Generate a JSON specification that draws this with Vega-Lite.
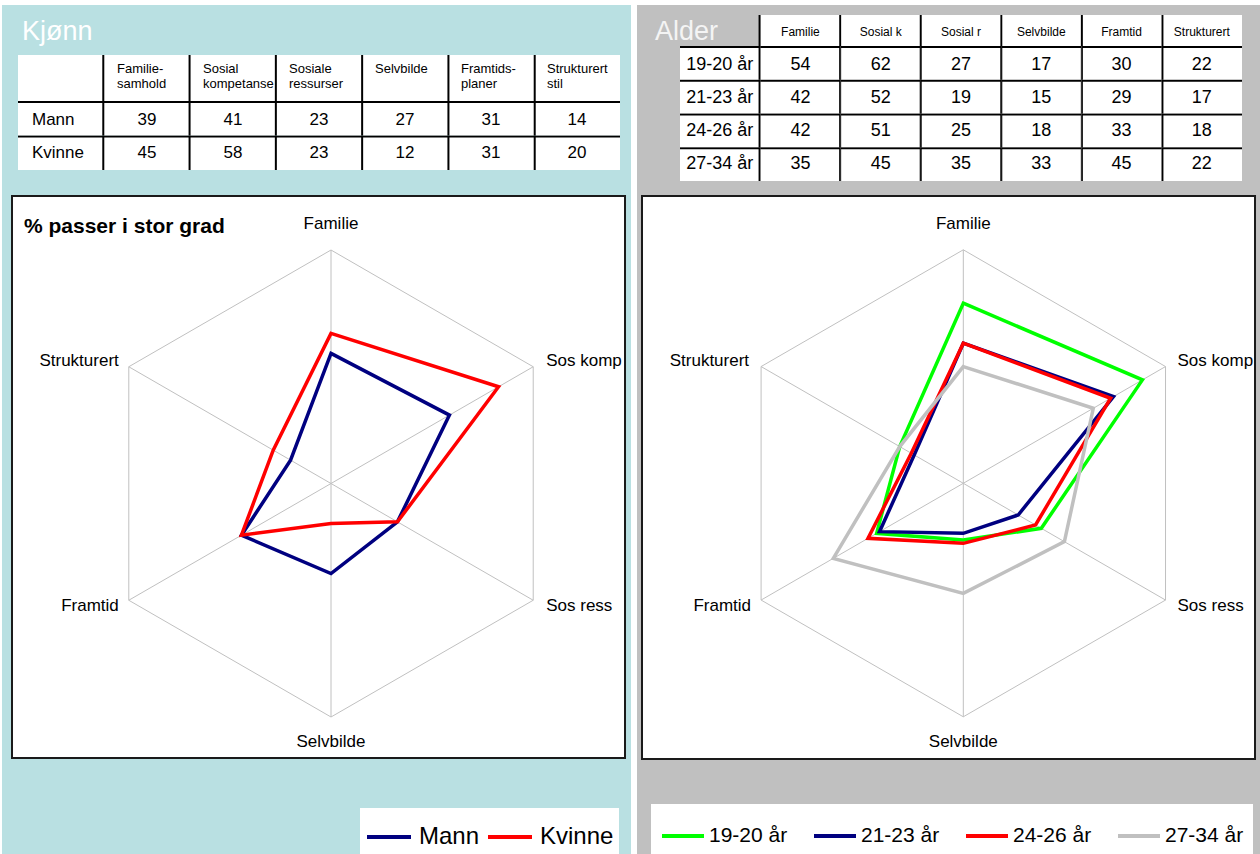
{
"$schema": "https://vega.github.io/schema/vega-lite/v6.json",
"padding": {"left": 2, "top": 5, "right": 0, "bottom": 0},
"spacing": 6,
"background": "white",
"config": {"view": {"stroke": null}},
"datasets": {
"axes": [{"a":"Familie","k":0},{"a":"Sos komp","k":1},{"a":"Sos ress","k":2},{"a":"Selvbilde","k":3},{"a":"Framtid","k":4},{"a":"Strukturert","k":5}],
"hdrL": [{"c":"_","h":""},{"c":"Familie-samhold","h":"Familie-\nsamhold"},{"c":"Sosial kompetanse","h":"Sosial\nkompetanse"},{"c":"Sosiale ressurser","h":"Sosiale\nressurser"},{"c":"Selvbilde","h":"Selvbilde"},{"c":"Framtids-planer","h":"Framtids-\nplaner"},{"c":"Strukturert stil","h":"Strukturert\nstil"}],
"bodyL": [
{"r":"Mann","c":"_"},{"r":"Mann","c":"Familie-samhold","v":39},{"r":"Mann","c":"Sosial kompetanse","v":41},{"r":"Mann","c":"Sosiale ressurser","v":23},{"r":"Mann","c":"Selvbilde","v":27},{"r":"Mann","c":"Framtids-planer","v":31},{"r":"Mann","c":"Strukturert stil","v":14},
{"r":"Kvinne","c":"_"},{"r":"Kvinne","c":"Familie-samhold","v":45},{"r":"Kvinne","c":"Sosial kompetanse","v":58},{"r":"Kvinne","c":"Sosiale ressurser","v":23},{"r":"Kvinne","c":"Selvbilde","v":12},{"r":"Kvinne","c":"Framtids-planer","v":31},{"r":"Kvinne","c":"Strukturert stil","v":20}],
"hdrR": [{"c":"Familie"},{"c":"Sosial k"},{"c":"Sosial r"},{"c":"Selvbilde"},{"c":"Framtid"},{"c":"Strukturert"}],
"bodyR": [
{"r":"19-20 år","c":"_"},{"r":"19-20 år","c":"Familie","v":54},{"r":"19-20 år","c":"Sosial k","v":62},{"r":"19-20 år","c":"Sosial r","v":27},{"r":"19-20 år","c":"Selvbilde","v":17},{"r":"19-20 år","c":"Framtid","v":30},{"r":"19-20 år","c":"Strukturert","v":22},
{"r":"21-23 år","c":"_"},{"r":"21-23 år","c":"Familie","v":42},{"r":"21-23 år","c":"Sosial k","v":52},{"r":"21-23 år","c":"Sosial r","v":19},{"r":"21-23 år","c":"Selvbilde","v":15},{"r":"21-23 år","c":"Framtid","v":29},{"r":"21-23 år","c":"Strukturert","v":17},
{"r":"24-26 år","c":"_"},{"r":"24-26 år","c":"Familie","v":42},{"r":"24-26 år","c":"Sosial k","v":51},{"r":"24-26 år","c":"Sosial r","v":25},{"r":"24-26 år","c":"Selvbilde","v":18},{"r":"24-26 år","c":"Framtid","v":33},{"r":"24-26 år","c":"Strukturert","v":18},
{"r":"27-34 år","c":"_"},{"r":"27-34 år","c":"Familie","v":35},{"r":"27-34 år","c":"Sosial k","v":45},{"r":"27-34 år","c":"Sosial r","v":35},{"r":"27-34 år","c":"Selvbilde","v":33},{"r":"27-34 år","c":"Framtid","v":45},{"r":"27-34 år","c":"Strukturert","v":22}]
},
"resolve": {"scale": {"color": "independent"}, "legend": {"color": "independent"}},
"hconcat": [
{
"width": 629, "height": 849,
"view": {"fill": "#b9e0e2", "stroke": null},
"resolve": {"scale": {"x": "independent", "y": "independent"}},
"layer": [
{"data": {"name": "hdrL"}, "transform": [{"calculate": "'h'", "as": "hr"}], "mark": {"type": "rect", "fill": "#000000"},
 "encoding": {"x": {"field": "c", "type": "nominal", "axis": null, "scale": {"domain": ["_","Familie-samhold","Sosial kompetanse","Sosiale ressurser","Selvbilde","Framtids-planer","Strukturert stil"], "range": [16,618], "paddingInner": 0, "paddingOuter": 0}},
  "y": {"field": "hr", "type": "nominal", "axis": null, "scale": {"domain": ["h"], "range": [50,96], "paddingInner": 0, "paddingOuter": 0}}}},
{"data": {"name": "bodyL"}, "mark": {"type": "rect", "fill": "#000000"},
 "encoding": {"x": {"field": "c", "type": "nominal", "axis": null, "scale": {"domain": ["_","Familie-samhold","Sosial kompetanse","Sosiale ressurser","Selvbilde","Framtids-planer","Strukturert stil"], "range": [16,618], "paddingInner": 0, "paddingOuter": 0}},
  "y": {"field": "r", "type": "nominal", "axis": null, "scale": {"domain": ["Mann","Kvinne"], "range": [96,165], "paddingInner": 0, "paddingOuter": 0}}}},
{"data": {"name": "hdrL"}, "transform": [{"calculate": "'h'", "as": "hr"}], "mark": {"type": "rect", "fill": "#ffffff"},
 "encoding": {"x": {"field": "c", "type": "nominal", "axis": null, "scale": {"domain": ["_","Familie-samhold","Sosial kompetanse","Sosiale ressurser","Selvbilde","Framtids-planer","Strukturert stil"], "range": [16,618], "paddingInner": 0.02318, "paddingOuter": 0}},
  "y": {"field": "hr", "type": "nominal", "axis": null, "scale": {"domain": ["h"], "range": [50,96], "paddingInner": 0, "paddingOuter": 0}}}},
{"data": {"name": "bodyL"}, "mark": {"type": "rect", "fill": "#ffffff"},
 "encoding": {"x": {"field": "c", "type": "nominal", "axis": null, "scale": {"domain": ["_","Familie-samhold","Sosial kompetanse","Sosiale ressurser","Selvbilde","Framtids-planer","Strukturert stil"], "range": [16,618], "paddingInner": 0.02318, "paddingOuter": 0}},
  "y": {"field": "r", "type": "nominal", "axis": null, "scale": {"domain": ["Mann","Kvinne"], "range": [98,165], "paddingInner": 0.058, "paddingOuter": 0}}}},
{"data": {"name": "hdrL"}, "transform": [{"calculate": "'h'", "as": "hr"}], "mark": {"type": "text", "align": "left", "baseline": "top", "dx": -30, "dy": -15, "lineBreak": "\n", "lineHeight": 15, "fontSize": 13, "font": "Liberation Sans", "color": "#000000"},
 "encoding": {"x": {"field": "c", "type": "nominal", "axis": null, "scale": {"domain": ["_","Familie-samhold","Sosial kompetanse","Sosiale ressurser","Selvbilde","Framtids-planer","Strukturert stil"], "range": [16,618], "paddingInner": 0.02318, "paddingOuter": 0}},
  "y": {"field": "hr", "type": "nominal", "axis": null, "scale": {"domain": ["h"], "range": [50,96], "paddingInner": 0, "paddingOuter": 0}},
  "text": {"field": "h", "type": "nominal"}}},
{"data": {"name": "bodyL"}, "transform": [{"filter": "datum.c == '_'"}], "mark": {"type": "text", "align": "left", "baseline": "middle", "dx": -29, "fontSize": 17, "font": "Liberation Sans", "color": "#000000"},
 "encoding": {"x": {"field": "c", "type": "nominal", "axis": null, "scale": {"domain": ["_","Familie-samhold","Sosial kompetanse","Sosiale ressurser","Selvbilde","Framtids-planer","Strukturert stil"], "range": [16,618], "paddingInner": 0.02318, "paddingOuter": 0}},
  "y": {"field": "r", "type": "nominal", "axis": null, "scale": {"domain": ["Mann","Kvinne"], "range": [98,165], "paddingInner": 0.058, "paddingOuter": 0}},
  "text": {"field": "r", "type": "nominal"}}},
{"data": {"name": "bodyL"}, "transform": [{"filter": "datum.c != '_'"}], "mark": {"type": "text", "align": "center", "baseline": "middle", "fontSize": 17, "font": "Liberation Sans", "color": "#000000"},
 "encoding": {"x": {"field": "c", "type": "nominal", "axis": null, "scale": {"domain": ["_","Familie-samhold","Sosial kompetanse","Sosiale ressurser","Selvbilde","Framtids-planer","Strukturert stil"], "range": [16,618], "paddingInner": 0.02318, "paddingOuter": 0}},
  "y": {"field": "r", "type": "nominal", "axis": null, "scale": {"domain": ["Mann","Kvinne"], "range": [98,165], "paddingInner": 0.058, "paddingOuter": 0}},
  "text": {"field": "v", "type": "quantitative"}}},
{"data": {"values": [{"f": "box"}]}, "transform": [{"calculate": "-95.63", "as": "bx1"}, {"calculate": "88.14", "as": "bx2"}, {"calculate": "86.19", "as": "by1"}, {"calculate": "-82.29", "as": "by2"}],
 "mark": {"type": "rect", "fill": "#ffffff", "stroke": "#1a1a1a", "strokeWidth": 2},
 "encoding": {"x": {"field": "bx1", "type": "quantitative", "axis": null, "scale": {"domain": [-70,70], "range": [95.5,562.5], "nice": false, "zero": false}},
  "x2": {"field": "bx2"},
  "y": {"field": "by1", "type": "quantitative", "axis": null, "scale": {"domain": [-70,70], "range": [712,245], "nice": false, "zero": false}},
  "y2": {"field": "by2"}}},
{"data": {"name": "axes"}, "transform": [{"calculate": "0", "as": "ox"}, {"calculate": "70*sin(2*PI*datum.k/6)", "as": "gx"}, {"calculate": "70*cos(2*PI*datum.k/6)", "as": "gy"}],
 "mark": {"type": "rule", "color": "#c0c0c0", "strokeWidth": 1},
 "encoding": {"x": {"field": "ox", "type": "quantitative", "axis": null, "scale": {"domain": [-70,70], "range": [95.5,562.5], "nice": false, "zero": false}},
  "y": {"field": "ox", "type": "quantitative", "axis": null, "scale": {"domain": [-70,70], "range": [712,245], "nice": false, "zero": false}},
  "x2": {"field": "gx"}, "y2": {"field": "gy"}}},
{"data": {"name": "axes"}, "transform": [{"calculate": "70*sin(2*PI*datum.k/6)", "as": "gx"}, {"calculate": "70*cos(2*PI*datum.k/6)", "as": "gy"}],
 "mark": {"type": "line", "color": "#c0c0c0", "strokeWidth": 1, "interpolate": "linear-closed"},
 "encoding": {"x": {"field": "gx", "type": "quantitative", "axis": null, "scale": {"domain": [-70,70], "range": [95.5,562.5], "nice": false, "zero": false}},
  "y": {"field": "gy", "type": "quantitative", "axis": null, "scale": {"domain": [-70,70], "range": [712,245], "nice": false, "zero": false}},
  "order": {"field": "k", "type": "quantitative"}}},
{"data": {"name": "bodyL"}, "transform": [{"filter": "datum.c != '_'"},
  {"calculate": "indexof(['_','Familie-samhold','Sosial kompetanse','Sosiale ressurser','Selvbilde','Framtids-planer','Strukturert stil'], datum.c) - 1", "as": "k"},
  {"calculate": "datum.v*sin(2*PI*datum.k/6)", "as": "px"}, {"calculate": "datum.v*cos(2*PI*datum.k/6)", "as": "py"}],
 "mark": {"type": "line", "strokeWidth": 3.5, "interpolate": "linear-closed", "strokeJoin": "miter"},
 "encoding": {"x": {"field": "px", "type": "quantitative", "axis": null, "scale": {"domain": [-70,70], "range": [95.5,562.5], "nice": false, "zero": false}},
  "y": {"field": "py", "type": "quantitative", "axis": null, "scale": {"domain": [-70,70], "range": [712,245], "nice": false, "zero": false}},
  "order": {"field": "k", "type": "quantitative"},
  "color": {"field": "r", "type": "nominal", "scale": {"domain": ["Mann","Kvinne"], "range": ["#000080","#ff0000"]},
   "legend": {"orient": "none", "legendX": 358, "legendY": 803, "direction": "horizontal", "title": null, "symbolType": "stroke", "symbolSize": 1936, "symbolStrokeWidth": 4, "labelFontSize": 24, "labelFont": "Liberation Sans", "labelColor": "#000000", "fillColor": "#ffffff", "padding": 5, "columnPadding": 0, "labelOffset": 6}}}},
{"data": {"name": "axes"}, "transform": [{"filter": "datum.k == 0"}, {"calculate": "70*sin(2*PI*datum.k/6)", "as": "gx"}, {"calculate": "70*cos(2*PI*datum.k/6)", "as": "gy"}],
 "mark": {"type": "text", "align": "center", "baseline": "middle", "dy": -26, "fontSize": 17, "font": "Liberation Sans", "color": "#000000"},
 "encoding": {"x": {"field": "gx", "type": "quantitative", "axis": null, "scale": {"domain": [-70,70], "range": [95.5,562.5], "nice": false, "zero": false}},
  "y": {"field": "gy", "type": "quantitative", "axis": null, "scale": {"domain": [-70,70], "range": [712,245], "nice": false, "zero": false}}, "text": {"field": "a", "type": "nominal"}}},
{"data": {"name": "axes"}, "transform": [{"filter": "datum.k == 1"}, {"calculate": "70*sin(2*PI*datum.k/6)", "as": "gx"}, {"calculate": "70*cos(2*PI*datum.k/6)", "as": "gy"}],
 "mark": {"type": "text", "align": "left", "baseline": "middle", "dx": 13, "dy": -6, "fontSize": 17, "font": "Liberation Sans", "color": "#000000"},
 "encoding": {"x": {"field": "gx", "type": "quantitative", "axis": null, "scale": {"domain": [-70,70], "range": [95.5,562.5], "nice": false, "zero": false}},
  "y": {"field": "gy", "type": "quantitative", "axis": null, "scale": {"domain": [-70,70], "range": [712,245], "nice": false, "zero": false}}, "text": {"field": "a", "type": "nominal"}}},
{"data": {"name": "axes"}, "transform": [{"filter": "datum.k == 2"}, {"calculate": "70*sin(2*PI*datum.k/6)", "as": "gx"}, {"calculate": "70*cos(2*PI*datum.k/6)", "as": "gy"}],
 "mark": {"type": "text", "align": "left", "baseline": "middle", "dx": 13, "dy": 6, "fontSize": 17, "font": "Liberation Sans", "color": "#000000"},
 "encoding": {"x": {"field": "gx", "type": "quantitative", "axis": null, "scale": {"domain": [-70,70], "range": [95.5,562.5], "nice": false, "zero": false}},
  "y": {"field": "gy", "type": "quantitative", "axis": null, "scale": {"domain": [-70,70], "range": [712,245], "nice": false, "zero": false}}, "text": {"field": "a", "type": "nominal"}}},
{"data": {"name": "axes"}, "transform": [{"filter": "datum.k == 3"}, {"calculate": "70*sin(2*PI*datum.k/6)", "as": "gx"}, {"calculate": "70*cos(2*PI*datum.k/6)", "as": "gy"}],
 "mark": {"type": "text", "align": "center", "baseline": "middle", "dy": 25, "fontSize": 17, "font": "Liberation Sans", "color": "#000000"},
 "encoding": {"x": {"field": "gx", "type": "quantitative", "axis": null, "scale": {"domain": [-70,70], "range": [95.5,562.5], "nice": false, "zero": false}},
  "y": {"field": "gy", "type": "quantitative", "axis": null, "scale": {"domain": [-70,70], "range": [712,245], "nice": false, "zero": false}}, "text": {"field": "a", "type": "nominal"}}},
{"data": {"name": "axes"}, "transform": [{"filter": "datum.k == 4"}, {"calculate": "70*sin(2*PI*datum.k/6)", "as": "gx"}, {"calculate": "70*cos(2*PI*datum.k/6)", "as": "gy"}],
 "mark": {"type": "text", "align": "right", "baseline": "middle", "dx": -10, "dy": 6, "fontSize": 17, "font": "Liberation Sans", "color": "#000000"},
 "encoding": {"x": {"field": "gx", "type": "quantitative", "axis": null, "scale": {"domain": [-70,70], "range": [95.5,562.5], "nice": false, "zero": false}},
  "y": {"field": "gy", "type": "quantitative", "axis": null, "scale": {"domain": [-70,70], "range": [712,245], "nice": false, "zero": false}}, "text": {"field": "a", "type": "nominal"}}},
{"data": {"name": "axes"}, "transform": [{"filter": "datum.k == 5"}, {"calculate": "70*sin(2*PI*datum.k/6)", "as": "gx"}, {"calculate": "70*cos(2*PI*datum.k/6)", "as": "gy"}],
 "mark": {"type": "text", "align": "right", "baseline": "middle", "dx": -10, "dy": -6, "fontSize": 17, "font": "Liberation Sans", "color": "#000000"},
 "encoding": {"x": {"field": "gx", "type": "quantitative", "axis": null, "scale": {"domain": [-70,70], "range": [95.5,562.5], "nice": false, "zero": false}},
  "y": {"field": "gy", "type": "quantitative", "axis": null, "scale": {"domain": [-70,70], "range": [712,245], "nice": false, "zero": false}}, "text": {"field": "a", "type": "nominal"}}},
{"data": {"values": [{"t": "% passer i stor grad"}]}, "transform": [{"calculate": "-92.04", "as": "tx"}, {"calculate": "75.1", "as": "ty"}], "mark": {"type": "text", "align": "left", "baseline": "alphabetic", "fontSize": 21, "fontWeight": "bold", "font": "Liberation Sans", "color": "#000000"},
 "encoding": {"x": {"field": "tx", "type": "quantitative", "axis": null, "scale": {"domain": [-70,70], "range": [95.5,562.5], "nice": false, "zero": false}},
  "y": {"field": "ty", "type": "quantitative", "axis": null, "scale": {"domain": [-70,70], "range": [712,245], "nice": false, "zero": false}}, "text": {"field": "t", "type": "nominal"}}},
{"data": {"values": [{"t": "Kjønn"}]}, "transform": [{"calculate": "-92.63", "as": "tx"}, {"calculate": "132.96", "as": "ty"}], "mark": {"type": "text", "align": "left", "baseline": "alphabetic", "fontSize": 27, "font": "Liberation Sans", "color": "#ffffff"},
 "encoding": {"x": {"field": "tx", "type": "quantitative", "axis": null, "scale": {"domain": [-70,70], "range": [95.5,562.5], "nice": false, "zero": false}},
  "y": {"field": "ty", "type": "quantitative", "axis": null, "scale": {"domain": [-70,70], "range": [712,245], "nice": false, "zero": false}}, "text": {"field": "t", "type": "nominal"}}}
]
},
{
"width": 623, "height": 849,
"view": {"fill": "#c0c0c0", "stroke": null},
"resolve": {"scale": {"x": "independent", "y": "independent"}},
"layer": [
{"data": {"name": "hdrR"}, "transform": [{"calculate": "'h'", "as": "hr"}], "mark": {"type": "rect", "fill": "#000000"},
 "encoding": {"x": {"field": "c", "type": "nominal", "axis": null, "scale": {"domain": ["_","Familie","Sosial k","Sosial r","Selvbilde","Framtid","Strukturert"], "range": [41,605], "paddingInner": 0, "paddingOuter": 0}},
  "y": {"field": "hr", "type": "nominal", "axis": null, "scale": {"domain": ["h"], "range": [10,41], "paddingInner": 0, "paddingOuter": 0}}}},
{"data": {"name": "bodyR"}, "mark": {"type": "rect", "fill": "#000000"},
 "encoding": {"x": {"field": "c", "type": "nominal", "axis": null, "scale": {"domain": ["_","Familie","Sosial k","Sosial r","Selvbilde","Framtid","Strukturert"], "range": [43,605], "paddingInner": 0, "paddingOuter": 0}},
  "y": {"field": "r", "type": "nominal", "axis": null, "scale": {"domain": ["19-20 år","21-23 år","24-26 år","27-34 år"], "range": [41,176], "paddingInner": 0, "paddingOuter": 0}}}},
{"data": {"name": "hdrR"}, "transform": [{"calculate": "'h'", "as": "hr"}], "mark": {"type": "rect", "fill": "#ffffff"},
 "encoding": {"x": {"field": "c", "type": "nominal", "axis": null, "scale": {"domain": ["_","Familie","Sosial k","Sosial r","Selvbilde","Framtid","Strukturert"], "range": [43,605], "paddingInner": 0.02482, "paddingOuter": 0}},
  "y": {"field": "hr", "type": "nominal", "axis": null, "scale": {"domain": ["h"], "range": [10,41], "paddingInner": 0, "paddingOuter": 0}}}},
{"data": {"name": "bodyR"}, "mark": {"type": "rect", "fill": "#ffffff"},
 "encoding": {"x": {"field": "c", "type": "nominal", "axis": null, "scale": {"domain": ["_","Familie","Sosial k","Sosial r","Selvbilde","Framtid","Strukturert"], "range": [43,605], "paddingInner": 0.02482, "paddingOuter": 0}},
  "y": {"field": "r", "type": "nominal", "axis": null, "scale": {"domain": ["19-20 år","21-23 år","24-26 år","27-34 år"], "range": [43,176], "paddingInner": 0.05926, "paddingOuter": 0}}}},
{"data": {"name": "hdrR"}, "transform": [{"calculate": "'h'", "as": "hr"}], "mark": {"type": "text", "align": "center", "baseline": "middle", "dy": 1, "fontSize": 12, "font": "Liberation Sans", "color": "#000000"},
 "encoding": {"x": {"field": "c", "type": "nominal", "axis": null, "scale": {"domain": ["_","Familie","Sosial k","Sosial r","Selvbilde","Framtid","Strukturert"], "range": [43,605], "paddingInner": 0.02482, "paddingOuter": 0}},
  "y": {"field": "hr", "type": "nominal", "axis": null, "scale": {"domain": ["h"], "range": [10,41], "paddingInner": 0, "paddingOuter": 0}},
  "text": {"field": "c", "type": "nominal"}}},
{"data": {"name": "bodyR"}, "transform": [{"filter": "datum.c == '_'"}], "mark": {"type": "text", "align": "left", "baseline": "middle", "dx": -34, "fontSize": 18, "font": "Liberation Sans", "color": "#000000"},
 "encoding": {"x": {"field": "c", "type": "nominal", "axis": null, "scale": {"domain": ["_","Familie","Sosial k","Sosial r","Selvbilde","Framtid","Strukturert"], "range": [43,605], "paddingInner": 0.02482, "paddingOuter": 0}},
  "y": {"field": "r", "type": "nominal", "axis": null, "scale": {"domain": ["19-20 år","21-23 år","24-26 år","27-34 år"], "range": [43,176], "paddingInner": 0.05926, "paddingOuter": 0}},
  "text": {"field": "r", "type": "nominal"}}},
{"data": {"name": "bodyR"}, "transform": [{"filter": "datum.c != '_'"}], "mark": {"type": "text", "align": "center", "baseline": "middle", "fontSize": 18, "font": "Liberation Sans", "color": "#000000"},
 "encoding": {"x": {"field": "c", "type": "nominal", "axis": null, "scale": {"domain": ["_","Familie","Sosial k","Sosial r","Selvbilde","Framtid","Strukturert"], "range": [43,605], "paddingInner": 0.02482, "paddingOuter": 0}},
  "y": {"field": "r", "type": "nominal", "axis": null, "scale": {"domain": ["19-20 år","21-23 år","24-26 år","27-34 år"], "range": [43,176], "paddingInner": 0.05926, "paddingOuter": 0}},
  "text": {"field": "v", "type": "quantitative"}}},
{"data": {"values": [{"f": "box"}]}, "transform": [{"calculate": "-96.32", "as": "bx1"}, {"calculate": "87.45", "as": "bx2"}, {"calculate": "86.13", "as": "by1"}, {"calculate": "-82.65", "as": "by2"}],
 "mark": {"type": "rect", "fill": "#ffffff", "stroke": "#1a1a1a", "strokeWidth": 2},
 "encoding": {"x": {"field": "bx1", "type": "quantitative", "axis": null, "scale": {"domain": [-70,70], "range": [92.8,559.8], "nice": false, "zero": false}},
  "x2": {"field": "bx2"},
  "y": {"field": "by1", "type": "quantitative", "axis": null, "scale": {"domain": [-70,70], "range": [711.8,244.8], "nice": false, "zero": false}},
  "y2": {"field": "by2"}}},
{"data": {"name": "axes"}, "transform": [{"calculate": "0", "as": "ox"}, {"calculate": "70*sin(2*PI*datum.k/6)", "as": "gx"}, {"calculate": "70*cos(2*PI*datum.k/6)", "as": "gy"}],
 "mark": {"type": "rule", "color": "#c0c0c0", "strokeWidth": 1},
 "encoding": {"x": {"field": "ox", "type": "quantitative", "axis": null, "scale": {"domain": [-70,70], "range": [92.8,559.8], "nice": false, "zero": false}},
  "y": {"field": "ox", "type": "quantitative", "axis": null, "scale": {"domain": [-70,70], "range": [711.8,244.8], "nice": false, "zero": false}},
  "x2": {"field": "gx"}, "y2": {"field": "gy"}}},
{"data": {"name": "axes"}, "transform": [{"calculate": "70*sin(2*PI*datum.k/6)", "as": "gx"}, {"calculate": "70*cos(2*PI*datum.k/6)", "as": "gy"}],
 "mark": {"type": "line", "color": "#c0c0c0", "strokeWidth": 1, "interpolate": "linear-closed"},
 "encoding": {"x": {"field": "gx", "type": "quantitative", "axis": null, "scale": {"domain": [-70,70], "range": [92.8,559.8], "nice": false, "zero": false}},
  "y": {"field": "gy", "type": "quantitative", "axis": null, "scale": {"domain": [-70,70], "range": [711.8,244.8], "nice": false, "zero": false}},
  "order": {"field": "k", "type": "quantitative"}}},
{"data": {"name": "bodyR"}, "transform": [{"filter": "datum.c != '_'"},
  {"calculate": "indexof(['_','Familie','Sosial k','Sosial r','Selvbilde','Framtid','Strukturert'], datum.c) - 1", "as": "k"},
  {"calculate": "datum.v*sin(2*PI*datum.k/6)", "as": "px"}, {"calculate": "datum.v*cos(2*PI*datum.k/6)", "as": "py"}],
 "mark": {"type": "line", "strokeWidth": 3.5, "interpolate": "linear-closed", "strokeJoin": "miter"},
 "encoding": {"x": {"field": "px", "type": "quantitative", "axis": null, "scale": {"domain": [-70,70], "range": [92.8,559.8], "nice": false, "zero": false}},
  "y": {"field": "py", "type": "quantitative", "axis": null, "scale": {"domain": [-70,70], "range": [711.8,244.8], "nice": false, "zero": false}},
  "order": {"field": "k", "type": "quantitative"},
  "color": {"field": "r", "type": "nominal", "scale": {"domain": ["19-20 år","21-23 år","24-26 år","27-34 år"], "range": ["#00ff00","#000080","#ff0000","#c0c0c0"]},
   "legend": {"orient": "none", "legendX": 14, "legendY": 799, "direction": "horizontal", "title": null, "symbolType": "stroke", "symbolSize": 1764, "symbolStrokeWidth": 4, "labelFontSize": 21, "labelFont": "Liberation Sans", "labelColor": "#000000", "fillColor": "#ffffff", "padding": 9, "columnPadding": 18, "labelOffset": 3}}}},
{"data": {"name": "axes"}, "transform": [{"filter": "datum.k == 0"}, {"calculate": "70*sin(2*PI*datum.k/6)", "as": "gx"}, {"calculate": "70*cos(2*PI*datum.k/6)", "as": "gy"}],
 "mark": {"type": "text", "align": "center", "baseline": "middle", "dy": -26, "fontSize": 17, "font": "Liberation Sans", "color": "#000000"},
 "encoding": {"x": {"field": "gx", "type": "quantitative", "axis": null, "scale": {"domain": [-70,70], "range": [92.8,559.8], "nice": false, "zero": false}},
  "y": {"field": "gy", "type": "quantitative", "axis": null, "scale": {"domain": [-70,70], "range": [711.8,244.8], "nice": false, "zero": false}}, "text": {"field": "a", "type": "nominal"}}},
{"data": {"name": "axes"}, "transform": [{"filter": "datum.k == 1"}, {"calculate": "70*sin(2*PI*datum.k/6)", "as": "gx"}, {"calculate": "70*cos(2*PI*datum.k/6)", "as": "gy"}],
 "mark": {"type": "text", "align": "left", "baseline": "middle", "dx": 12, "dy": -6, "fontSize": 17, "font": "Liberation Sans", "color": "#000000"},
 "encoding": {"x": {"field": "gx", "type": "quantitative", "axis": null, "scale": {"domain": [-70,70], "range": [92.8,559.8], "nice": false, "zero": false}},
  "y": {"field": "gy", "type": "quantitative", "axis": null, "scale": {"domain": [-70,70], "range": [711.8,244.8], "nice": false, "zero": false}}, "text": {"field": "a", "type": "nominal"}}},
{"data": {"name": "axes"}, "transform": [{"filter": "datum.k == 2"}, {"calculate": "70*sin(2*PI*datum.k/6)", "as": "gx"}, {"calculate": "70*cos(2*PI*datum.k/6)", "as": "gy"}],
 "mark": {"type": "text", "align": "left", "baseline": "middle", "dx": 12, "dy": 6, "fontSize": 17, "font": "Liberation Sans", "color": "#000000"},
 "encoding": {"x": {"field": "gx", "type": "quantitative", "axis": null, "scale": {"domain": [-70,70], "range": [92.8,559.8], "nice": false, "zero": false}},
  "y": {"field": "gy", "type": "quantitative", "axis": null, "scale": {"domain": [-70,70], "range": [711.8,244.8], "nice": false, "zero": false}}, "text": {"field": "a", "type": "nominal"}}},
{"data": {"name": "axes"}, "transform": [{"filter": "datum.k == 3"}, {"calculate": "70*sin(2*PI*datum.k/6)", "as": "gx"}, {"calculate": "70*cos(2*PI*datum.k/6)", "as": "gy"}],
 "mark": {"type": "text", "align": "center", "baseline": "middle", "dy": 25, "fontSize": 17, "font": "Liberation Sans", "color": "#000000"},
 "encoding": {"x": {"field": "gx", "type": "quantitative", "axis": null, "scale": {"domain": [-70,70], "range": [92.8,559.8], "nice": false, "zero": false}},
  "y": {"field": "gy", "type": "quantitative", "axis": null, "scale": {"domain": [-70,70], "range": [711.8,244.8], "nice": false, "zero": false}}, "text": {"field": "a", "type": "nominal"}}},
{"data": {"name": "axes"}, "transform": [{"filter": "datum.k == 4"}, {"calculate": "70*sin(2*PI*datum.k/6)", "as": "gx"}, {"calculate": "70*cos(2*PI*datum.k/6)", "as": "gy"}],
 "mark": {"type": "text", "align": "right", "baseline": "middle", "dx": -10, "dy": 6, "fontSize": 17, "font": "Liberation Sans", "color": "#000000"},
 "encoding": {"x": {"field": "gx", "type": "quantitative", "axis": null, "scale": {"domain": [-70,70], "range": [92.8,559.8], "nice": false, "zero": false}},
  "y": {"field": "gy", "type": "quantitative", "axis": null, "scale": {"domain": [-70,70], "range": [711.8,244.8], "nice": false, "zero": false}}, "text": {"field": "a", "type": "nominal"}}},
{"data": {"name": "axes"}, "transform": [{"filter": "datum.k == 5"}, {"calculate": "70*sin(2*PI*datum.k/6)", "as": "gx"}, {"calculate": "70*cos(2*PI*datum.k/6)", "as": "gy"}],
 "mark": {"type": "text", "align": "right", "baseline": "middle", "dx": -12, "dy": -6, "fontSize": 17, "font": "Liberation Sans", "color": "#000000"},
 "encoding": {"x": {"field": "gx", "type": "quantitative", "axis": null, "scale": {"domain": [-70,70], "range": [92.8,559.8], "nice": false, "zero": false}},
  "y": {"field": "gy", "type": "quantitative", "axis": null, "scale": {"domain": [-70,70], "range": [711.8,244.8], "nice": false, "zero": false}}, "text": {"field": "a", "type": "nominal"}}},
{"data": {"values": [{"t": "Alder"}]}, "transform": [{"calculate": "-92.43", "as": "tx"}, {"calculate": "132.9", "as": "ty"}], "mark": {"type": "text", "align": "left", "baseline": "alphabetic", "fontSize": 27, "font": "Liberation Sans", "color": "#f4f4f4"},
 "encoding": {"x": {"field": "tx", "type": "quantitative", "axis": null, "scale": {"domain": [-70,70], "range": [92.8,559.8], "nice": false, "zero": false}},
  "y": {"field": "ty", "type": "quantitative", "axis": null, "scale": {"domain": [-70,70], "range": [711.8,244.8], "nice": false, "zero": false}}, "text": {"field": "t", "type": "nominal"}}}
]
}
]
}
